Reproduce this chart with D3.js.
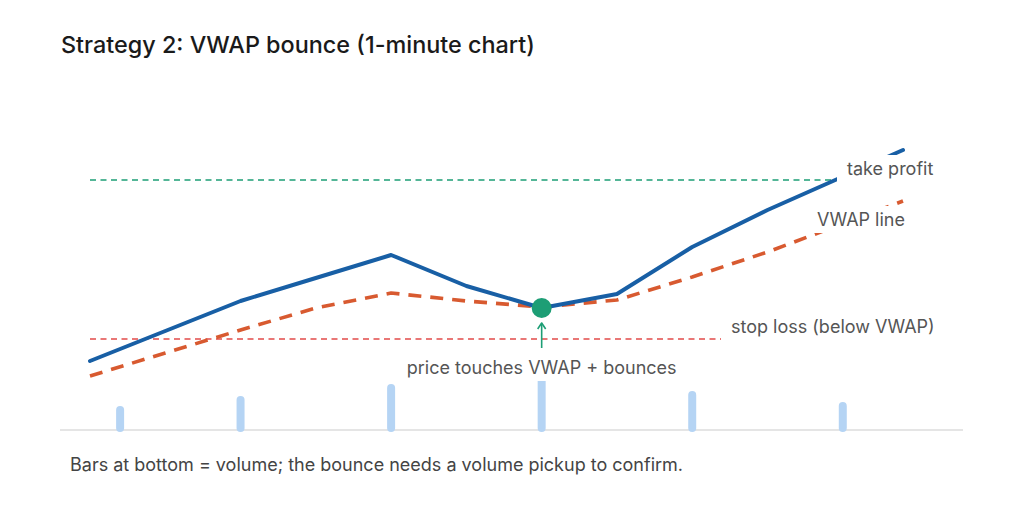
<!DOCTYPE html>
<html><head><meta charset="utf-8">
<script src="https://cdn.jsdelivr.net/npm/d3@7"></script>
<style>body{margin:0;background:#fff} svg{display:block}</style>
</head><body>
<svg id="c" width="1024" height="512"></svg>
<script>
// ---- data ----
const minutes = [0, 1, 2, 3, 4, 5, 6, 7, 8, 9, 10.8];
const price   = [49.69, 49.99, 50.29, 50.52, 50.75, 50.44, 50.22, 50.36, 50.83, 51.20, 51.80];
const vwap    = [49.54, 49.77, 50.00, 50.22, 50.37, 50.29, 50.23, 50.30, 50.53, 50.78, 51.29];
const volMinutes = [0.4, 2, 4, 6, 8, 10];
const volume     = [2.0, 3.0, 4.2, 5.8, 3.5, 2.4];
const takeProfit = 51.50;
const stopLoss = 49.91;
const bounceMinute = 6;
const bouncePrice = 50.22;
const titleText = "Strategy 2: VWAP bounce (1-minute chart)";
const captionText = "Bars at bottom = volume; the bounce needs a volume pickup to confirm.";
const levelLabels = ["take profit", "VWAP line", "stop loss (below VWAP)"];
const bounceLabel = "price touches VWAP + bounces";

// ---- layout ----
const svg = d3.select("#c");
const FONT = "Inter, 'Noto Sans', sans-serif";
const x = d3.scaleLinear().domain([0, 10.8]).range([90, 903]);
const y = d3.scaleLinear().domain([49, 52]).range([430, 130]);
const vh = d3.scaleLinear().domain([0, 6]).range([0, 60]);
const baseY = 430;

const C = {blue:"#185FA5", orange:"#D85A30", green:"#1D9E75", red:"#E24B4A", vol:"#B5D4F4", axis:"#cccccc", text:"#555555"};

// title
svg.append("text").attr("x", 61).attr("y", 53).attr("font-family", FONT).attr("font-size", 23.4)
  .attr("font-weight", 500).attr("fill", "#1a1a1a").text(titleText);

// level lines
svg.append("line").attr("x1", x(0)).attr("x2", x(10.8)).attr("y1", y(takeProfit)).attr("y2", y(takeProfit))
  .attr("stroke", C.green).attr("stroke-width", 1.3).attr("stroke-dasharray", "6,4.5");
svg.append("line").attr("x1", x(0)).attr("x2", x(10.8)).attr("y1", y(stopLoss)).attr("y2", y(stopLoss))
  .attr("stroke", C.red).attr("stroke-width", 1.3).attr("stroke-dasharray", "6,4.5");

const pts = (arr) => minutes.map((m, i) => [x(m), y(arr[i])]);
const line = d3.line();
svg.append("path").attr("d", line(pts(vwap))).attr("fill", "none").attr("stroke", C.orange)
  .attr("stroke-width", 3.6).attr("stroke-dasharray", "13,9").attr("stroke-linejoin", "round");
svg.append("path").attr("d", line(pts(price))).attr("fill", "none").attr("stroke", C.blue)
  .attr("stroke-width", 4).attr("stroke-linejoin", "round").attr("stroke-linecap", "round");

// axis baseline
svg.append("line").attr("x1", 60).attr("x2", 963).attr("y1", baseY).attr("y2", baseY)
  .attr("stroke", C.axis).attr("stroke-width", 1.2);

// volume bars
svg.selectAll("line.vol").data(volMinutes).enter().append("line").attr("class", "vol")
  .attr("x1", d => x(d)).attr("x2", d => x(d))
  .attr("y1", baseY - 2).attr("y2", (d, i) => baseY - vh(volume[i]))
  .attr("stroke", C.vol).attr("stroke-width", 8).attr("stroke-linecap", "round");

// bounce marker
svg.append("circle").attr("cx", x(bounceMinute)).attr("cy", y(bouncePrice)).attr("r", 10).attr("fill", C.green);
const ax = x(bounceMinute);
svg.append("line").attr("x1", ax).attr("x2", ax).attr("y1", 348).attr("y2", 323.5)
  .attr("stroke", C.green).attr("stroke-width", 1.6);
svg.append("path").attr("d", `M${ax-4},${329} L${ax},${323} L${ax+4},${329}`)
  .attr("fill", "none").attr("stroke", C.green).attr("stroke-width", 1.6).attr("stroke-linejoin", "round");

// labels with white boxes
function boxLabel(txt, px, py, anchor) {
  const g = svg.append("g");
  const r = g.append("rect").attr("fill", "#fff");
  const t = g.append("text").attr("x", px).attr("y", py).attr("text-anchor", anchor || "start")
    .attr("font-family", FONT).attr("font-size", 18).attr("fill", C.text).text(txt);
  const b = t.node().getBBox();
  r.attr("x", b.x - 10).attr("y", b.y - 3).attr("width", b.width + 20).attr("height", b.height + 6);
}
boxLabel(levelLabels[0], 847, 175);
boxLabel(levelLabels[1], 817, 226);
boxLabel(levelLabels[2], 731, 333);
boxLabel(bounceLabel, ax, 374, "middle");

// caption
svg.append("text").attr("x", 70).attr("y", 471).attr("font-family", FONT).attr("font-size", 18)
  .attr("fill", "#444").text(captionText);
</script>
</body></html>
